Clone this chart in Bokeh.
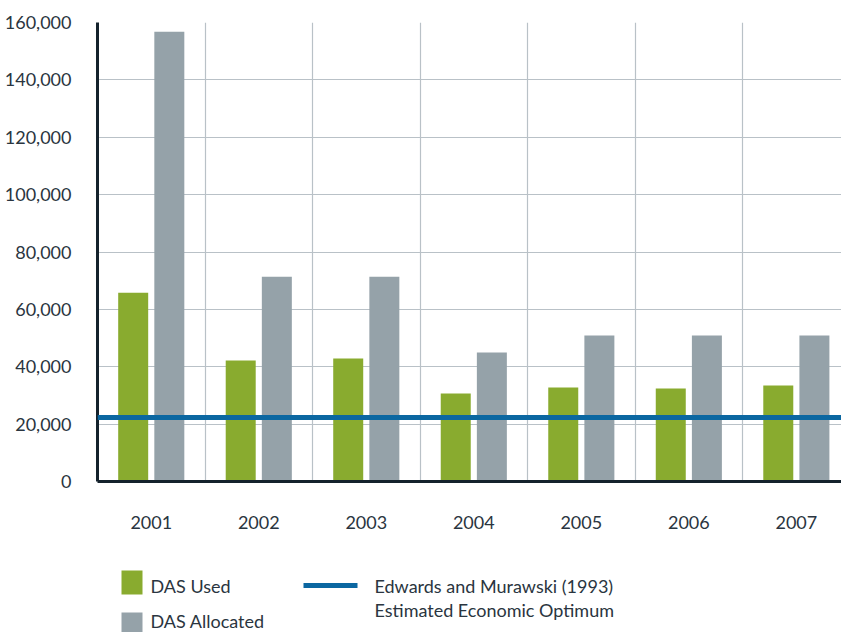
from bokeh.plotting import figure
from bokeh.models import Range1d, FixedTicker, NumeralTickFormatter, Span, ColumnDataSource
from bokeh.layouts import column
from bokeh.transform import dodge
from bokeh.core.properties import value
from bokeh.embed import file_html
from bokeh.resources import INLINE

years = ["2001", "2002", "2003", "2004", "2005", "2006", "2007"]
das_used = [65800, 42200, 42900, 30700, 32800, 32400, 33500]
das_allocated = [156800, 71400, 71400, 45000, 50900, 50900, 50900]
optimum = 22300
y_ticks = [0, 20000, 40000, 60000, 80000, 100000, 120000, 140000, 160000]
legend_labels = ["DAS Used", "DAS Allocated", "Edwards and Murawski (1993)", "Estimated Economic Optimum"]

GREEN = "#89ab2f"
GREY = "#95a2a9"
BLUE = "#0b67a1"
TEXT = "#2a3540"
FONT = "Lato"

xs = [i + 0.5 for i in range(len(years))]
src = ColumnDataSource(dict(x=xs, used=das_used, alloc=das_allocated))

p = figure(width=841, height=550, output_backend="svg", toolbar_location=None,
           x_range=Range1d(0, 6.92), y_range=Range1d(0, 160000),
           min_border_left=97, min_border_right=0, min_border_top=22, min_border_bottom=69)
p.outline_line_color = None
p.background_fill_color = "white"
p.border_fill_color = "white"

p.vbar(x=dodge("x", -0.168), top="used", width=0.279, source=src, fill_color=GREEN, line_color=None)
p.vbar(x=dodge("x", 0.168), top="alloc", width=0.279, source=src, fill_color=GREY, line_color=None)

p.add_layout(Span(location=optimum, dimension="width", line_color=BLUE, line_width=5))

# axes
p.xaxis.ticker = FixedTicker(ticks=xs)
p.xaxis.major_label_overrides = {x: y for x, y in zip(xs, years)}
p.yaxis.ticker = FixedTicker(ticks=y_ticks)
p.yaxis.formatter = NumeralTickFormatter(format="0,0")
for ax in (p.xaxis, p.yaxis):
    ax.axis_line_color = "#14222c"
    ax.axis_line_width = 3
    ax.major_tick_line_color = None
    ax.minor_tick_line_color = None
    ax.major_label_text_font = FONT
    ax.major_label_text_font_size = "18px"
    ax.major_label_text_color = TEXT
p.xaxis.major_label_standoff = 28
p.yaxis.major_label_standoff = 20

p.xgrid.ticker = FixedTicker(ticks=[1, 2, 3, 4, 5, 6])
p.ygrid.ticker = FixedTicker(ticks=y_ticks)
for g in (p.xgrid, p.ygrid):
    g.grid_line_color = "#b9c1c7"
    g.grid_line_width = 1.2

# legend figure (data coords = page pixels); same borders as main plot so frames align
leg = figure(width=841, height=82, output_backend="svg", toolbar_location=None,
             x_range=Range1d(97, 841), y_range=Range1d(632, 550),
             min_border_left=97, min_border_right=0, min_border_top=0, min_border_bottom=0)
leg.axis.visible = False
leg.grid.visible = False
leg.outline_line_color = None
leg.background_fill_color = "white"
leg.border_fill_color = "white"

leg.quad(left=[121, 121], right=[142, 142], top=[570, 612], bottom=[594, 636],
         fill_color=[GREEN, GREY], line_color=None)
leg.segment(x0=[303], y0=[585], x1=[357], y1=[585], line_color=BLUE, line_width=5)
leg.text(x=[150, 150, 374, 374], y=[585, 620, 585, 609], text=legend_labels,
         text_font=value(FONT), text_font_size="18px", text_color=TEXT,
         text_baseline="middle", text_align="left")

layout = column(p, leg, spacing=0)

open("out.html", "w").write(file_html(layout, INLINE))
